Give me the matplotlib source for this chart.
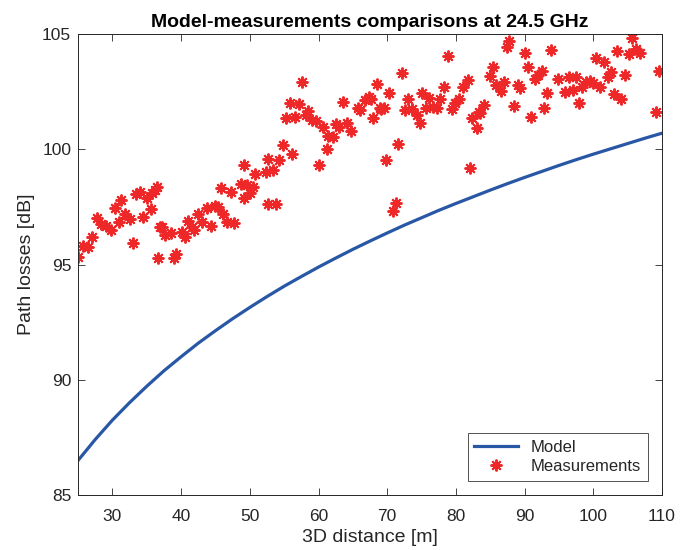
import matplotlib.pyplot as plt

# 模型曲线
model_dist = [25, 27.5, 30, 32.5, 35, 37.5, 40, 42.5, 45, 47.5, 50, 52.5, 55, 57.5, 60,
              62.5, 65, 67.5, 70, 72.5, 75, 77.5, 80, 82.5, 85, 87.5, 90, 92.5, 95,
              97.5, 100, 102.5, 105, 107.5, 110]
model_loss = [86.5, 87.41, 88.25, 89.01, 89.72, 90.39, 91.0, 91.59, 92.13, 92.65, 93.14,
              93.61, 94.06, 94.48, 94.89, 95.28, 95.66, 96.02, 96.37, 96.71, 97.03, 97.35,
              97.65, 97.94, 98.23, 98.51, 98.78, 99.04, 99.3, 99.55, 99.79, 100.02,
              100.25, 100.48, 100.7]

# 测量点
meas_dist = [
    25.0, 25.7, 26.4, 27.0, 27.8, 28.4, 29.0, 29.8, 30.4, 30.9, 31.3, 31.8, 32.5, 33.0,
    33.5, 34.0, 34.4, 35.0, 35.6, 35.7, 36.2, 36.5, 36.9, 36.7, 37.2, 37.7, 38.5, 39.3,
    39.0, 40.1, 40.5, 41.0, 41.6, 41.9, 42.5, 43.0, 43.8, 44.4, 44.9, 45.4, 46.1, 46.7,
    47.7, 45.8, 47.2, 48.7, 49.1, 49.6, 50.0, 50.4, 49.1, 50.8, 52.4, 52.7, 52.7, 53.8,
    53.4, 54.3, 54.8, 56.2, 55.3, 55.8, 56.6, 57.1, 57.6, 58.2, 58.5, 59.0, 59.6, 60.7,
    61.4, 62.1, 61.2, 60.0, 62.6, 63.0, 64.2, 64.8, 63.6, 65.7, 66.0, 66.8, 67.4, 68.0,
    68.5, 68.9, 67.7, 69.1, 69.5, 70.3, 72.1, 71.6, 69.8, 71.3, 70.9, 72.6, 73.1, 73.6,
    74.3, 74.8, 75.0, 75.7, 76.1, 76.6, 77.2, 77.7, 78.2, 78.9, 79.4, 79.9, 80.4, 81.1,
    81.7, 82.3, 83.0, 83.3, 82.0, 83.5, 84.1, 84.9, 85.4, 85.8, 86.5, 87.0, 87.5, 87.8,
    88.4, 89.0, 89.4, 90.1, 90.5, 91.0, 91.5, 92.0, 92.5, 92.8, 93.2, 93.8, 94.8, 95.9,
    96.5, 97.1, 97.5, 97.9, 98.3, 98.9, 99.5, 99.9, 100.4, 101.0, 101.5, 102.1, 102.6,
    103.0, 103.5, 104.0, 104.6, 105.2, 105.7, 106.2, 106.8, 109.1, 109.6,
]
meas_loss = [
    95.34, 95.8, 95.75, 96.18, 97.03, 96.76, 96.67, 96.5, 97.44, 96.86, 97.8, 97.18, 96.97, 95.95,
    98.06, 98.13, 97.05, 97.87, 97.39, 98.1, 98.23, 98.37, 96.64, 95.27, 96.64, 96.28, 96.38, 95.46,
    95.27, 96.42, 96.18, 96.89, 96.64, 96.5, 97.18, 96.86, 97.44, 96.67, 97.54, 97.51, 97.19, 96.86,
    96.79, 98.31, 98.16, 98.49, 97.87, 98.45, 98.09, 98.38, 99.32, 98.91, 99.03, 99.56, 97.62, 97.62,
    99.1, 99.53, 100.18, 99.78, 101.37, 102.02, 101.41, 101.96, 102.9, 101.49, 101.66, 101.27, 101.24, 100.95,
    100.57, 100.54, 100.0, 99.32, 101.1, 100.98, 101.15, 100.79, 102.06, 101.78, 101.7, 102.14, 102.25, 101.37,
    102.82, 101.78, 102.2, 101.75, 101.78, 102.45, 103.32, 100.21, 99.53, 97.65, 97.32, 101.7, 102.18, 101.75,
    101.49, 101.13, 102.45, 101.8, 102.21, 101.82, 101.78, 102.18, 102.71, 104.06, 101.75, 101.99, 102.18, 102.71,
    103.0, 101.37, 100.93, 101.63, 99.17, 101.56, 101.92, 103.19, 103.58, 102.79, 102.54, 102.93, 104.45, 104.7,
    101.89, 102.79, 102.64, 104.2, 103.58, 101.41, 103.05, 103.22, 103.4, 101.78, 102.43, 104.31, 103.03, 102.5,
    103.12, 102.57, 103.12, 101.99, 102.71, 102.93, 102.96, 102.86, 103.97, 102.71, 103.8, 103.12, 103.36,
    102.38, 104.26, 102.18, 103.22, 104.12, 104.84, 104.35, 104.16, 101.6, 103.4,
]

AX_COLOR = "#262626"
plt.rcParams['font.family'] = ['Liberation Sans', 'DejaVu Sans']

fig = plt.figure(figsize=(6.91, 5.5), dpi=100)
ax = fig.add_axes([0.113, 0.10, 0.845, 0.838])

ax.plot(model_dist, model_loss, color="#2857A5", linewidth=2.3, label="Model")
ax.plot(meas_dist, meas_loss, linestyle="none", marker=(8, 2, 0), markersize=8.5,
        markeredgewidth=1.4, color="#EE2828", label="Measurements")

ax.set_xlim(25, 110)
ax.set_ylim(85, 105)
ax.set_xticks([30, 40, 50, 60, 70, 80, 90, 100, 110])
ax.set_yticks([85, 90, 95, 100, 105])

ax.tick_params(direction="in", top=True, right=True, length=5, width=0.6,
               colors=AX_COLOR, labelsize=12.5)
ax.tick_params(axis="x", pad=10)
ax.tick_params(axis="y", pad=5)
for sp in ax.spines.values():
    sp.set_color(AX_COLOR)
    sp.set_linewidth(0.7)

ax.set_title("Model-measurements comparisons at 24.5 GHz", fontsize=14,
             fontweight="bold", color="black", pad=5)
ax.set_xlabel("3D distance [m]", fontsize=14, color=AX_COLOR, labelpad=4)
ax.set_ylabel("Path losses [dB]", fontsize=14, color=AX_COLOR, labelpad=5)

leg = ax.legend(loc="lower right", fontsize=12, frameon=True, fancybox=False,
                borderaxespad=0.85, handlelength=2.6, labelspacing=0.25,
                borderpad=0.4)
leg.get_frame().set_edgecolor(AX_COLOR)
leg.get_frame().set_linewidth(0.7)
for t in leg.get_texts():
    t.set_color(AX_COLOR)

plt.savefig("out.png", dpi=100)
